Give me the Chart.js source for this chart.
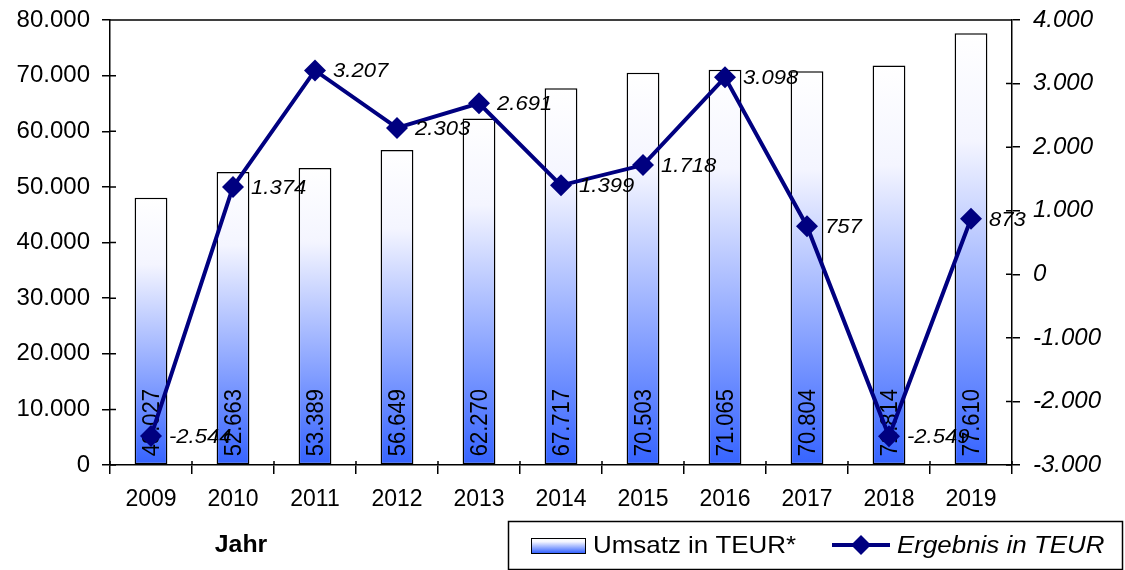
<!DOCTYPE html>
<html>
<head>
<meta charset="utf-8">
<script src="https://cdn.jsdelivr.net/npm/chart.js@4/dist/chart.umd.min.js"></script>
<style>
  html, body { margin: 0; padding: 0; background: #fff; }
  #wrap { width: 1125px; height: 570px; position: relative; }
</style>
</head>
<body>
<div id="wrap"><canvas id="chart" width="1125" height="570"></canvas></div>
<script>
// Daten
const jahre = ['2009', '2010', '2011', '2012', '2013', '2014', '2015', '2016', '2017', '2018', '2019'];
const umsatz = [48027, 52663, 53389, 56649, 62270, 67717, 70503, 71065, 70804, 71814, 77610];
const ergebnis = [-2544, 1374, 3207, 2303, 2691, 1399, 1718, 3098, 757, -2549, 873];
const umsatzLabel = 'Umsatz in TEUR*';
const ergebnisLabel = 'Ergebnis in TEUR';
const achsenTitel = 'Jahr';

const SCHRIFT = '"Liberation Sans", Arial, sans-serif';
const NAVY = '#000080';

// Zahl im deutschen Format (Tausenderpunkt)
function fmt(v) {
    const s = String(Math.abs(Math.round(v))).replace(/\B(?=(\d{3})+(?!\d))/g, '.');
    return (v < 0 ? '-' : '') + s;
}

function balkenVerlauf(ctx2d, top, bottom) {
    const g = ctx2d.createLinearGradient(0, top, 0, bottom);
    g.addColorStop(0, '#ffffff');
    g.addColorStop(0.25, '#f4f5ff');
    g.addColorStop(1, '#3563ff');
    return g;
}

// Text leicht breitgezogen wie im Original
function breitText(ctx, text, x, y, f) {
    ctx.save();
    ctx.translate(x, y);
    ctx.scale(f, 1);
    ctx.fillText(text, 0, 0);
    ctx.restore();
}

// Achsen-Extras: Ticks nach innen, obere Linie
const rahmenPlugin = {
    id: 'rahmen',
    afterDraw(chart) {
        const { ctx, chartArea: a, scales } = chart;
        ctx.save();
        ctx.strokeStyle = '#000';
        ctx.lineWidth = 1.5;
        ctx.beginPath();
        ctx.moveTo(a.left, a.top);
        ctx.lineTo(a.right, a.top);
        // innere Tickteile
        scales.y.ticks.forEach((t, i) => {
            const y = scales.y.getPixelForTick(i);
            ctx.moveTo(a.left, y); ctx.lineTo(a.left + 6, y);
        });
        scales.y2.ticks.forEach((t, i) => {
            const y = scales.y2.getPixelForTick(i);
            ctx.moveTo(a.right, y); ctx.lineTo(a.right - 6, y);
        });
        for (let i = 0; i <= jahre.length; i++) {
            const x = a.left + (a.right - a.left) * i / jahre.length;
            ctx.moveTo(x, a.bottom); ctx.lineTo(x, a.bottom - 4);
        }
        ctx.stroke();
        ctx.restore();
    }
};

// Werte an Balken und Linie
const labelPlugin = {
    id: 'werte',
    afterDatasetDraw(chart, args) {
        const { ctx } = chart;
        if (args.index === 0) {
            ctx.save();
            ctx.fillStyle = '#000';
            ctx.font = '22px ' + SCHRIFT;
            ctx.textAlign = 'left';
            ctx.textBaseline = 'middle';
            args.meta.data.forEach((bar, i) => {
                ctx.save();
                ctx.translate(bar.x, bar.base - 8);
                ctx.rotate(-Math.PI / 2);
                ctx.scale(1, 1.1);
                ctx.fillText(fmt(umsatz[i]), 0, 1);
                ctx.restore();
            });
            ctx.restore();
        }
    },
    afterDatasetsDraw(chart) {
        const { ctx } = chart;
        const meta = chart.getDatasetMeta(1);
        ctx.save();
        ctx.fillStyle = '#000';
        ctx.font = 'italic 21px ' + SCHRIFT;
        ctx.textAlign = 'left';
        ctx.textBaseline = 'middle';
        meta.data.forEach((pt, i) => {
            breitText(ctx, fmt(ergebnis[i]), pt.x + 18, pt.y + 1, 1.05);
        });
        ctx.restore();
    }
};

// Legende und Achsentitel unten
const legendePlugin = {
    id: 'legende',
    afterDraw(chart) {
        const { ctx } = chart;
        ctx.save();
        ctx.fillStyle = '#000';
        ctx.font = 'bold 23px ' + SCHRIFT;
        ctx.textAlign = 'center';
        ctx.textBaseline = 'middle';
        breitText(ctx, achsenTitel, 241, 546, 1.08);

        ctx.strokeStyle = '#000';
        ctx.lineWidth = 1.5;
        ctx.strokeRect(508.5, 521.5, 614, 48);

        ctx.fillStyle = balkenVerlauf(ctx, 538, 553);
        ctx.fillRect(531, 538, 54, 15);
        ctx.lineWidth = 1;
        ctx.strokeRect(531.5, 538.5, 54, 15);

        ctx.fillStyle = '#000';
        ctx.font = '24px ' + SCHRIFT;
        ctx.textAlign = 'left';
        breitText(ctx, umsatzLabel, 593, 546, 1.08);

        ctx.strokeStyle = NAVY;
        ctx.lineWidth = 4;
        ctx.beginPath();
        ctx.moveTo(832, 545); ctx.lineTo(890, 545);
        ctx.stroke();
        ctx.fillStyle = NAVY;
        ctx.beginPath();
        ctx.moveTo(861, 535); ctx.lineTo(871, 545); ctx.lineTo(861, 555); ctx.lineTo(851, 545);
        ctx.closePath();
        ctx.fill();

        ctx.fillStyle = '#000';
        ctx.font = 'italic 24px ' + SCHRIFT;
        breitText(ctx, ergebnisLabel, 897, 546, 1.08);
        ctx.restore();
    }
};

const achsenFarbe = '#000';

new Chart(document.getElementById('chart'), {
    data: {
        labels: jahre,
        datasets: [{
            type: 'bar',
            label: umsatzLabel,
            data: umsatz,
            yAxisID: 'y',
            order: 1,
            backgroundColor: (c) => {
                const chart = c.chart;
                if (!chart.chartArea || c.raw === undefined) return '#ffffff';
                const ys = chart.scales.y;
                return balkenVerlauf(chart.ctx, ys.getPixelForValue(c.raw), ys.getPixelForValue(0));
            },
            borderColor: '#000',
            borderWidth: 1.5,
            borderSkipped: false,
            barPercentage: 0.8,
            categoryPercentage: 0.5
        }, {
            type: 'line',
            label: ergebnisLabel,
            data: ergebnis,
            yAxisID: 'y2',
            order: 0,
            borderColor: NAVY,
            borderWidth: 4,
            backgroundColor: NAVY,
            pointStyle: 'rectRot',
            pointRadius: 11,
            pointBorderWidth: 0,
            pointBackgroundColor: NAVY,
            tension: 0
        }]
    },
    options: {
        responsive: false,
        animation: false,
        devicePixelRatio: 1,
        layout: { padding: { top: 20, left: 0, right: 0, bottom: 0 } },
        plugins: {
            legend: { display: false },
            tooltip: { enabled: false }
        },
        scales: {
            x: {
                offset: true,
                grid: { offset: true, drawOnChartArea: false, color: achsenFarbe, lineWidth: 1.5, tickLength: 9 },
                border: { display: true, color: achsenFarbe, width: 1.5 },
                ticks: { color: '#000', font: { family: SCHRIFT, size: 23 }, padding: 12, maxRotation: 0 },
                afterFit(s) { s.height = 105; s.paddingLeft = 0; s.paddingRight = 0; }
            },
            y: {
                position: 'left',
                min: 0,
                max: 80000,
                ticks: { stepSize: 10000, color: '#000', font: { family: SCHRIFT, size: 24 }, padding: 12, callback: (v) => fmt(v) },
                grid: { drawOnChartArea: false, color: achsenFarbe, lineWidth: 1.5, tickLength: 8 },
                border: { display: true, color: achsenFarbe, width: 1.5 },
                afterFit(s) { s.width = 110; s.paddingTop = 0; s.paddingBottom = 0; }
            },
            y2: {
                position: 'right',
                min: -3000,
                max: 4000,
                ticks: { stepSize: 1000, color: '#000', font: { family: SCHRIFT, size: 24, style: 'italic' }, padding: 13, callback: (v) => fmt(v) },
                grid: { drawOnChartArea: false, color: achsenFarbe, lineWidth: 1.5, tickLength: 8 },
                border: { display: true, color: achsenFarbe, width: 1.5 },
                afterFit(s) { s.width = 113; s.paddingTop = 0; s.paddingBottom = 0; }
            }
        }
    },
    plugins: [rahmenPlugin, labelPlugin, legendePlugin]
});
</script>
</body>
</html>
